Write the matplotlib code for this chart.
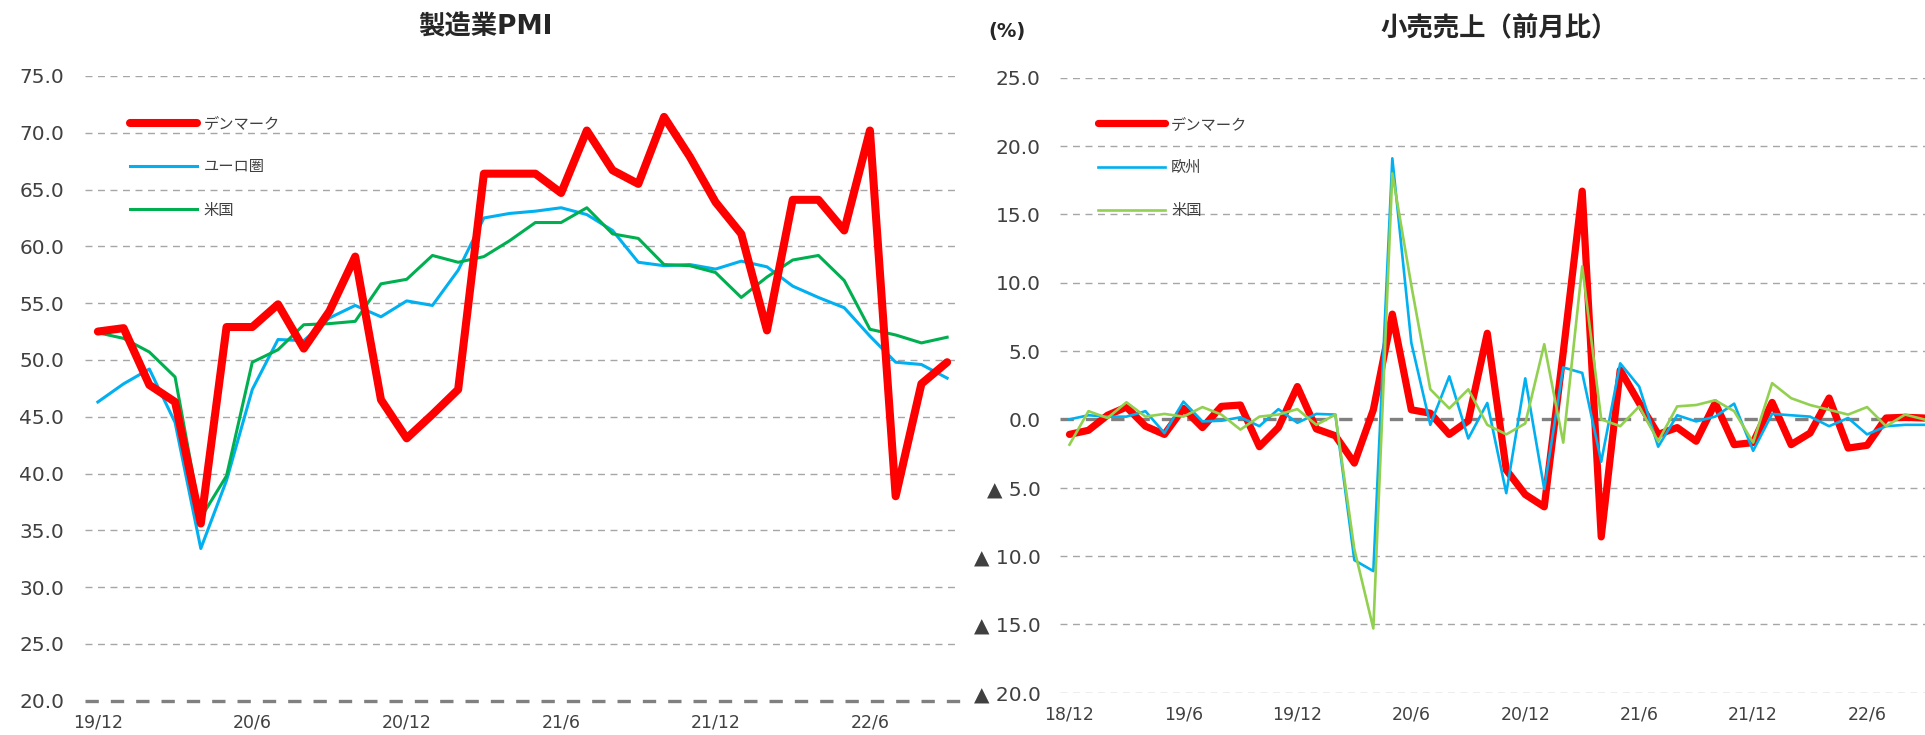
import matplotlib
matplotlib.use("Agg")
import matplotlib.pyplot as plt
import numpy as np

# ---- data -------------------------------------------------------------
pmi_labels = ["19/12", "20/6", "20/12", "21/6", "21/12", "22/6"]
pmi_denmark = [52.5, 52.8, 47.8, 46.3, 35.6, 52.9, 52.9, 54.9, 51.0, 54.3,
               59.1, 46.5, 43.1, 45.2, 47.4, 66.4, 66.4, 66.4, 64.7, 70.2,
               66.7, 65.5, 71.4, 67.9, 63.9, 61.1, 52.6, 64.1, 64.1, 61.4,
               70.2, 38.0, 47.9, 49.8]
pmi_euro = [46.3, 47.9, 49.2, 44.5, 33.4, 39.4, 47.4, 51.8, 51.7, 53.7,
            54.8, 53.8, 55.2, 54.8, 57.9, 62.5, 62.9, 63.1, 63.4, 62.8,
            61.4, 58.6, 58.3, 58.4, 58.0, 58.7, 58.2, 56.5, 55.5, 54.6,
            52.1, 49.8, 49.6, 48.4]
pmi_us = [52.4, 51.9, 50.7, 48.5, 36.1, 39.8, 49.8, 50.9, 53.1, 53.2,
          53.4, 56.7, 57.1, 59.2, 58.6, 59.1, 60.5, 62.1, 62.1, 63.4,
          61.1, 60.7, 58.4, 58.3, 57.7, 55.5, 57.3, 58.8, 59.2, 57.0,
          52.7, 52.2, 51.5, 52.0]

retail_labels = ["18/12", "19/6", "19/12", "20/6", "20/12", "21/6", "21/12", "22/6"]
retail_denmark = [-1.1, -0.8, 0.3, 0.9, -0.5, -1.1, 0.8, -0.6, 0.95, 1.05,
                  -2.0, -0.6, 2.4, -0.7, -1.2, -3.2, 0.7, 7.7, 0.7, 0.45,
                  -1.1, -0.1, 6.3, -3.7, -5.5, -6.4, 4.9, 16.7, -8.6, 3.6,
                  1.2, -1.1, -0.6, -1.6, 1.2, -1.85, -1.7, 1.24, -1.85, -1.0,
                  1.56, -2.1, -1.9, 0.1, 0.15, 0.1]
retail_euro = [0.0, 0.3, 0.2, 0.2, 0.6, -1.0, 1.3, -0.15, -0.1, 0.15,
               -0.5, 0.75, -0.25, 0.4, 0.35, -10.3, -11.1, 19.1, 5.6, -0.4,
               3.15, -1.4, 1.2, -5.4, 3.0, -5.1, 3.8, 3.4, -3.1, 4.1,
               2.4, -2.0, 0.3, -0.15, 0.2, 1.15, -2.3, 0.4, 0.3, 0.2,
               -0.5, 0.1, -1.1, -0.5, -0.4, -0.4]
retail_us = [-1.85, 0.6, 0.1, 1.25, 0.2, 0.4, 0.2, 0.9, 0.35, -0.75,
             0.2, 0.35, 0.75, -0.4, 0.35, -9.5, -15.3, 18.0, 9.8, 2.2,
             0.8, 2.2, -0.4, -1.1, -0.3, 5.5, -1.7, 11.2, 0.0, -0.5,
             0.95, -1.6, 0.95, 1.05, 1.4, 0.6, -1.7, 2.65, 1.55, 1.05,
             0.7, 0.35, 0.9, -0.5, 0.35, 0.0]

retail_yticks = [25, 20, 15, 10, 5, 0, -5, -10, -15, -20]
retail_yticklabels = ["25.0", "20.0", "15.0", "10.0", "5.0", "0.0",
                      "▲ 5.0", "▲ 10.0", "▲ 15.0", "▲ 20.0"]

# ---- style ------------------------------------------------------------
plt.rcParams["font.family"] = ["DejaVu Sans", "Noto Sans CJK JP"]
TXT = "#404040"
RED = "#FF0000"
BLUE = "#00B0F0"

fig = plt.figure(figsize=(19.25, 7.35), dpi=100)
W, H = 1925, 735


def axes_px(x0, x1, ytop, ybot):
    return fig.add_axes([x0 / W, 1 - ybot / H, (x1 - x0) / W, (ybot - ytop) / H])


def style(ax):
    for s in ax.spines.values():
        s.set_visible(False)
    ax.tick_params(length=0, colors=TXT)
    ax.set_facecolor("none")


def legend(ax, anchor):
    leg = ax.legend(loc="upper left", bbox_to_anchor=anchor, frameon=False,
                    fontsize=11, handlelength=4.4, handletextpad=0.4,
                    labelspacing=1.85, borderpad=0)
    for t in leg.get_texts():
        t.set_color(TXT)
    return leg


# ---- left: manufacturing PMI -----------------------------------------
ax1 = axes_px(85, 960, 76, 700.7)
style(ax1)
x1 = np.arange(len(pmi_denmark))
for v in np.arange(25, 80, 5):
    ax1.axhline(v, color="#A6A6A6", lw=1.0, ls=(0, (5, 4)), zorder=0)
ax1.axhline(20, color="#808080", lw=2.4, ls=(0, (4, 3.6)), zorder=0, clip_on=False)
ax1.plot(x1, pmi_denmark, color=RED, lw=5.8, label="デンマーク", zorder=3,
         solid_joinstyle="round", solid_capstyle="round")
ax1.plot(x1, pmi_euro, color=BLUE, lw=2.2, label="ユーロ圏", zorder=2)
ax1.plot(x1, pmi_us, color="#00B050", lw=2.2, label="米国", zorder=2)
ax1.set_xlim(-0.5, 33.5)
ax1.set_ylim(20, 75)
ax1.set_yticks(np.arange(20, 80, 5))
ax1.set_yticklabels([f"{v:.1f}" for v in np.arange(20, 80, 5)], fontsize=14.5)
ax1.tick_params(axis="y", pad=15)
ax1.set_xticks(np.arange(0, len(pmi_denmark), 6))
ax1.set_xticklabels(pmi_labels, fontsize=12.5)
ax1.tick_params(axis="x", pad=9)
legend(ax1, (0.043, 0.948))
fig.text(485 / W, 1 - 27 / H, "製造業PMI", ha="center", va="center",
         fontsize=19, fontweight="bold", color="#262626")

# ---- right: retail sales m/m ------------------------------------------
ax2 = axes_px(1060, 1925, 77.7, 692.7)
style(ax2)
x2 = np.arange(len(retail_denmark))
for v in retail_yticks:
    if v != 0:
        ax2.axhline(v, color="#A6A6A6", lw=1.0, ls=(0, (5, 4)), zorder=0)
ax2.axhline(0, color="#808080", lw=2.4, ls=(0, (4, 3.6)), zorder=1)
ax2.plot(x2, retail_denmark, color=RED, lw=5.2, label="デンマーク", zorder=3,
         solid_joinstyle="round", solid_capstyle="round")
ax2.plot(x2, retail_euro, color=BLUE, lw=1.9, label="欧州", zorder=4)
ax2.plot(x2, retail_us, color="#92D050", lw=1.9, label="米国", zorder=4)
ax2.set_xlim(-0.5, 45.05)
ax2.set_ylim(-20, 25)
ax2.set_yticks(retail_yticks)
ax2.set_yticklabels(retail_yticklabels, fontsize=14.5)
ax2.tick_params(axis="y", pad=14)
ax2.set_xticks(np.arange(0, len(retail_denmark), 6))
ax2.set_xticklabels(retail_labels, fontsize=12.5)
ax2.tick_params(axis="x", pad=9)
legend(ax2, (0.035, 0.949))
fig.text(1499 / W, 1 - 29 / H, "小売売上（前月比）", ha="center", va="center",
         fontsize=19, fontweight="bold", color="#262626")
fig.text(1007 / W, 1 - 31 / H, "(%)", ha="center", va="center",
         fontsize=14, fontweight="bold", color="#262626")

fig.savefig("out.png", dpi=100)
